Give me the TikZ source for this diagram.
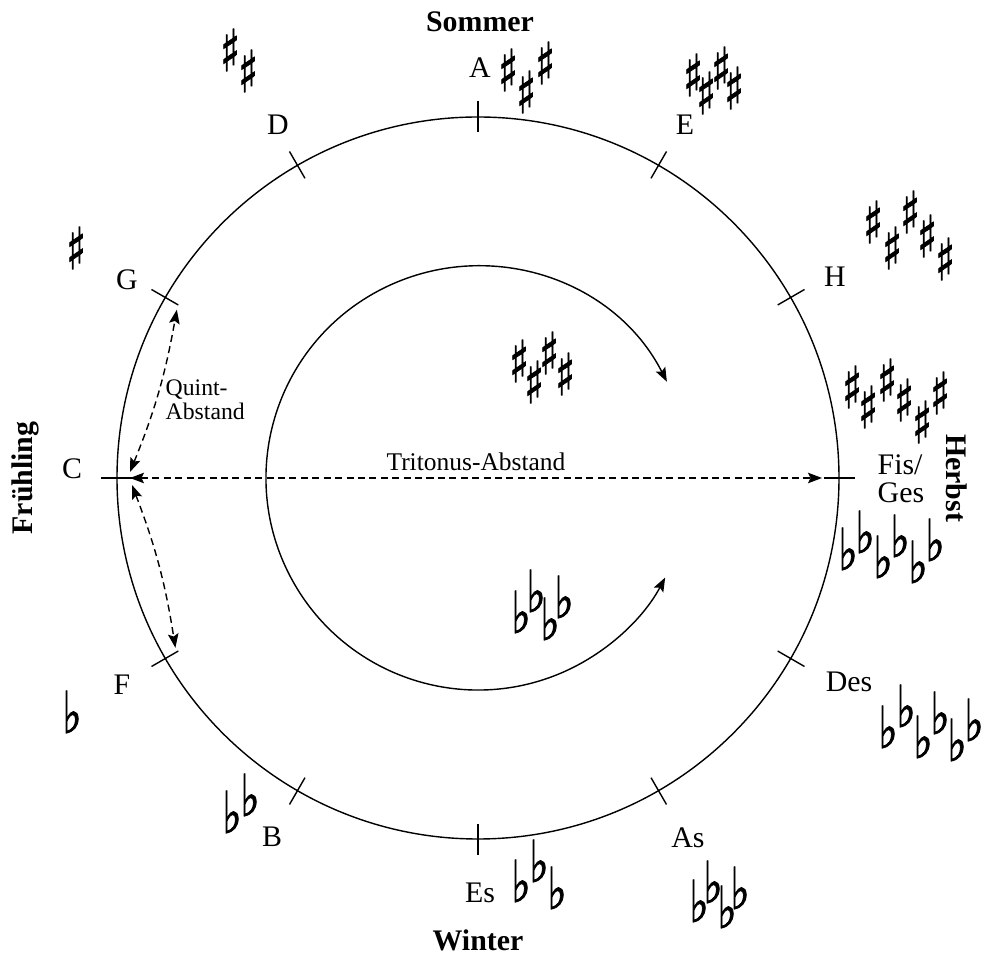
\documentclass[tikz,border=0pt]{standalone}
\usepackage{fontspec}
\setmainfont{Liberation Serif}
\newfontfamily\musicfont[FakeStretch=0.7, FakeBold=1.2]{DejaVu Sans}
\usetikzlibrary{arrows.meta}

\tikzset{
  keylabel/.style={font=\fontsize{17}{16}\selectfont, inner sep=0pt},
  season/.style={font=\fontsize{17}{19}\selectfont\bfseries, inner sep=0pt},
  note/.style={font=\fontsize{13.5}{13.6}\selectfont, inner sep=0pt},
  sharpsign/.style={font=\musicfont\fontsize{33}{33}\selectfont, inner sep=0pt},
  flatsign/.style={font=\musicfont\fontsize{33}{33}\selectfont, inner sep=0pt},
  interval/.style={dash pattern=on 4pt off 2.5pt,
    {Stealth[length=8pt,width=6pt,inset=1.5pt]}-{Stealth[length=8pt,width=6pt,inset=1.5pt]}},
  turn/.style={{Stealth[length=8pt,width=6pt,inset=1.5pt]}-{Stealth[length=8pt,width=6pt,inset=1.5pt]}},
}

\begin{document}
\begin{tikzpicture}[x=0.02cm, y=0.02cm, line width=0.8pt]
\useasboundingbox (-478,-477) rectangle (505,478);

% circle of fifths with ticks
\draw (0,0) circle (361);
\foreach \a in {0,30,...,330}
  \draw (\a:346) -- (\a:377);

% seasons
\node[season] (sommer) at (2,456) {Sommer};
\node[season, rotate=90] (fruehling) at (-453,0) {Frühling};
\node[season, rotate=-90] (herbst) at (479,0) {Herbst};
\node[season] (winter) at (0,-462) {Winter};

% keys
\node[keylabel] (keyA) at (2,410) {A};
\node[keylabel] (keyE) at (207,353) {E};
\node[keylabel] (keyH) at (357,201) {H};
\node[keylabel, anchor=west, align=left] (keyFis) at (399,-1) {Fis/\\Ges};
\node[keylabel] (keyDes) at (371,-204) {Des};
\node[keylabel] (keyAs) at (210,-360) {As};
\node[keylabel] (keyEs) at (2,-415) {Es};
\node[keylabel] (keyB) at (-206,-359) {B};
\node[keylabel] (keyF) at (-356,-207) {F};
\node[keylabel] (keyC) at (-406,9) {C};
\node[keylabel] (keyG) at (-351,198) {G};
\node[keylabel] (keyD) at (-200,353) {D};

% sharps
\foreach \x/\y [count=\i] in {-248/428,-230/407}
  \node[sharpsign] (shD\i) at (\x,\y) {♯};
\node[sharpsign] (shG1) at (-402,230) {♯};
\foreach \x/\y [count=\i] in {30/408,48/386,67/415}
  \node[sharpsign] (shA\i) at (\x,\y) {♯};
\foreach \x/\y [count=\i] in {215/403,228/385,243/410,256/390}
  \node[sharpsign] (shE\i) at (\x,\y) {♯};
\foreach \x/\y [count=\i] in {395/256,414/230,432/266,449/242,467/219}
  \node[sharpsign] (shH\i) at (\x,\y) {♯};
\foreach \x/\y [count=\i] in {374/91,390/71,409/98,426/78,444/56,462/85}
  \node[sharpsign] (shFis\i) at (\x,\y) {♯};
\foreach \x/\y [count=\i] in {41/117,56/96,71/125,87/104}
  \node[sharpsign] (shIn\i) at (\x,\y) {♯};

% flats
\foreach \x/\y [count=\i] in {370/-71,387/-54,405/-79,422/-58,440/-84,457/-62}
  \node[flatsign] (flGes\i) at (\x,\y) {♭};
\foreach \x/\y [count=\i] in {410/-249,428/-228,445/-259,462/-235,479/-262,496/-242}
  \node[flatsign] (flDes\i) at (\x,\y) {♭};
\foreach \x/\y [count=\i] in {221/-423,235/-404,249/-429,262/-410}
  \node[flatsign] (flAs\i) at (\x,\y) {♭};
\foreach \x/\y [count=\i] in {43/-403,61/-383,79/-410}
  \node[flatsign] (flEs\i) at (\x,\y) {♭};
\foreach \x/\y [count=\i] in {-246/-334,-228/-317}
  \node[flatsign] (flB\i) at (\x,\y) {♭};
\node[flatsign] (flF1) at (-406,-234) {♭};
\foreach \x/\y [count=\i] in {43/-134,58/-113,72/-141,86/-119}
  \node[flatsign] (flIn\i) at (\x,\y) {♭};

% direction of the circle
\coordinate (turnA) at (27:212);
\draw[turn] (turnA) arc[start angle=27, end angle=332, radius=212];

% intervals
\coordinate (qG) at (150.8:345);
\coordinate (qC1) at (-348,6);
\coordinate (tC) at (-348,0);
\coordinate (qC2) at (-346,-7);
\coordinate (qF) at (209.3:347);
\coordinate (tFis) at (344,0);
\draw[interval] (qC1) to[bend right=6] (qG);
\draw[interval] (qC2) to[bend left=6] (qF);
\draw[interval] (tC) -- (tFis);
\node[note, anchor=west, align=left] (quint) at (-313,78) {Quint-\\Abstand};
\node[note, font=\fontsize{14.5}{16}\selectfont, anchor=base] (tritonus) at (-2,7) {Tritonus-Abstand};
\end{tikzpicture}
\end{document}
